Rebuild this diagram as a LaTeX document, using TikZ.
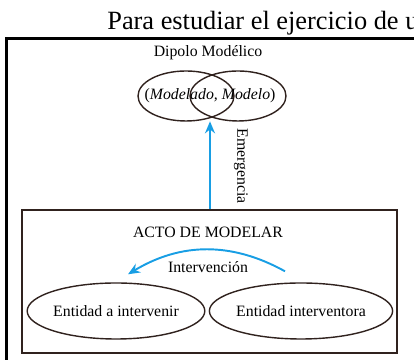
\documentclass[tikz,border=0pt]{standalone}
\usepackage{fontspec}
\setmainfont{Liberation Serif}
\usetikzlibrary{positioning,arrows.meta,shapes.geometric}
\definecolor{FlowBlue}{RGB}{24,158,228}
\definecolor{InkBrown}{RGB}{48,34,30}

\begin{document}
\begin{tikzpicture}[font=\fontsize{9}{11}\selectfont, every node/.style={align=center}]
\tikzset{
  entity/.style={draw=InkBrown, ellipse, line width=0.8pt, minimum width=3.16cm, minimum height=1.12cm, inner sep=0pt},
  pole/.style={draw=InkBrown, ellipse, line width=0.8pt, minimum width=1.92cm, minimum height=1.0cm, inner sep=0pt},
  actbox/.style={draw=InkBrown, line width=0.9pt, minimum width=7.5cm, minimum height=2.86cm},
  arr/.style={-{Stealth[length=2.4mm,width=2mm]}, line width=1.1pt, FlowBlue}
}
  \useasboundingbox (0,0) rectangle (8.28,7.2);
  % page text and outer frame
  \node[anchor=base west, inner sep=0pt, font=\fontsize{15}{18}\selectfont] (pagetext) at (2.14,6.6) {Para estudiar el ejercicio de u};
  \draw[line width=1.4pt] (8.6,6.43) -- (0.13,6.43) -- (0.13,-0.3);

  % modelic dipole
  \node (diptitle) at (4.16,6.14) {Dipolo Modélico};
  \node[pole] (modelado) at (3.72,5.28) {};
  \node[pole] (modelo) at (4.76,5.28) {};
  \node[minimum height=1.0cm, inner sep=0pt] (dipolo) at (4.2,5.28) {(\textit{Modelado, Modelo})};

  % act of modelling
  \node[actbox] (acto) at (4.19,1.57) {};
  \node (actotitle) at (4.16,2.56) {ACTO DE MODELAR};
  \node[entity] (aint) at (2.32,0.98) {Entidad a intervenir};
  \node[entity] (interventora) at (6.02,0.98) {Entidad interventora};

  \draw[arr] (acto.north -| dipolo.south) -- (dipolo.south);
  \node[rotate=-90] (emergencia) at (4.82,3.88) {Emergencia};

  \draw[arr] ([shift={(-0.32,0.22)}]interventora.north) to[bend right=30] ([shift={(0.24,0.16)}]aint.north);
  \node (intervencion) at (4.16,1.86) {Intervención};
\end{tikzpicture}
\end{document}
